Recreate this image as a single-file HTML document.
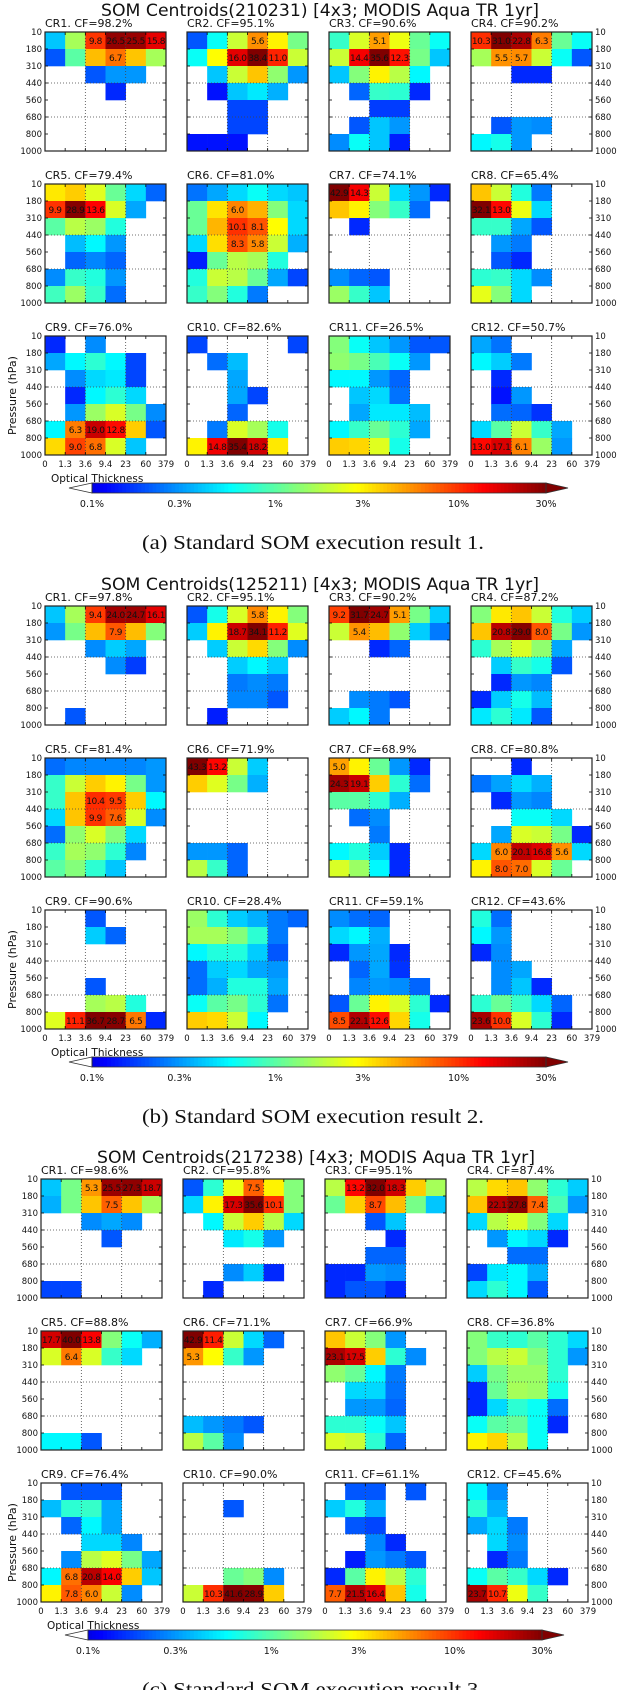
<!DOCTYPE html>
<html><head><meta charset="utf-8"><style>
html,body{margin:0;padding:0;background:#fff}
svg{display:block}
text{font-family:"DejaVu Sans","Liberation Sans",sans-serif;fill:#111}
.cap{font-family:"Liberation Serif",serif;font-size:20px}
</style></head><body>
<svg id="fig" width="620" height="1690" viewBox="0 0 620 1690" xmlns="http://www.w3.org/2000/svg"></svg>
<script>
const pressureTicks=[10,180,310,440,560,680,800,1000];
const tauTicks=[0,1.3,3.6,9.4,23,60,379];
const colorbarTicks=[0.1,0.3,1,3,10,30];
const titlesSeeds=["210231","125211","217238"];
const captions=["(a)  Standard SOM execution result 1.","(b)  Standard SOM execution result 2.","(c)  Standard SOM execution result 3."];
const cfA=[98.2,95.1,90.6,90.2,79.4,81.0,74.1,65.4,76.0,82.6,26.5,50.7];
const cfB=[97.8,95.1,90.2,87.2,81.4,71.9,68.9,80.8,90.6,28.4,59.1,43.6];
const cfC=[98.6,95.8,95.1,87.4,88.8,71.1,66.9,36.8,76.4,90.0,61.1,45.6];
const valsA=[
[[.4,1.6,9.8,26.5,25.5,15.8],[.2,1,4.2,6.7,4,1.6],[0,0,.2,.3,.3,0],[0,0,0,.15,0,0],[0,0,0,0,0,0],[0,0,0,0,0,0],[0,0,0,0,0,0]],
[[.2,.6,2,5.6,3,1.2],[.6,2.8,16.0,38.4,11.0,2],[0,.4,2,4,1.4,.3],[0,.13,.4,.5,.35,0],[0,0,.18,.18,0,0],[0,0,.18,.18,0,0],[.13,.13,.13,0,0,0]],
[[.8,2.2,5.1,2.5,1.1,.6],[2,14.4,35.6,12.3,1.2,.4],[.4,1.3,3,1.8,.55,0],[0,.22,.8,.75,.15,0],[0,0,.17,.17,0,0],[0,.2,.4,.3,0,0],[.28,.6,.4,.14,0,0]],
[[10.3,31.0,22.8,6.3,1.1,.6],[1.6,5.5,5.7,2,.6,.2],[0,0,.15,.15,0,0],[0,0,0,0,0,0],[0,0,0,0,0,0],[0,.2,.3,.28,0,0],[.55,.65,.3,0,0,0]],
[[3.2,3.8,2.3,1.1,.45,.22],[9.9,28.9,13.6,2.2,.33,0],[1,1.8,1.5,.7,0,0],[0,.38,.55,.3,0,0],[0,.22,.27,.22,0,0],[.28,.8,.7,.3,0,0],[.85,1.5,.8,.23,0,0]],
[[.24,.33,.45,.6,.45,.4],[1.1,3.3,6.0,4.5,1.3,.45],[1.1,4.4,10.1,8.1,2.8,.45],[.45,3.4,8.3,5.8,2,.35],[.14,1.1,1.8,1.6,.7,0],[.7,2,1.8,1.1,.33,.18],[.8,1.3,.7,.25,0,0]],
[[42.9,14.3,2,.45,.3,.15],[4,3,1.3,.8,.23,0],[0,.15,0,0,0,0],[0,0,0,0,0,0],[0,0,0,0,0,0],[.28,.22,.2,0,0,0],[1.5,.8,.4,0,0,0]],
[[4,2,.7,.25,0,0],[32.1,13.0,2.5,.45,0,0],[.8,.8,.33,.2,0,0],[0,.3,.25,0,0,0],[0,.2,.15,0,0,0],[.75,.8,.45,.28,0,0],[2.4,1.3,.45,0,0,0]],
[[.15,0,.28,0,0,0],[.33,.55,.75,.55,.18,0],[0,.28,.45,.5,.18,0],[0,.15,.55,.75,.45,0],[0,.3,1.5,2.2,1.2,.28],[.55,6.3,19.0,12.8,3.8,.2],[3.5,9.0,6.8,2.2,.4,0]],
[[.18,0,0,0,0,.18],[0,.23,.38,0,0,0],[0,0,.33,0,0,0],[0,0,.33,.18,0,0],[0,0,.22,0,0,0],[0,.25,2.2,1.6,.65,0],[3,14.8,35.4,18.2,3.2,0]],
[[1.3,.6,.4,.3,.2,.2],[1.4,1.2,.9,.6,.3,0],[.55,.55,.3,.22,0,0],[0,.4,.45,.24,0,0],[0,.33,.5,.5,.38,0],[.55,.8,1.1,.75,.33,0],[3.8,3.6,2.3,.65,0,0]],
[[.33,.24,0,0,0,0],[.55,.42,.25,0,0,0],[0,.15,0,0,0,0],[0,.13,.3,0,0,0],[0,.23,.22,.16,0,0],[.45,1,2,.8,.33,0],[13.0,17.1,6.1,1.5,.3,0]]
];
const valsB=[
[[.4,1.6,9.4,24.0,24.7,16.1],[.3,1.2,4.2,7.9,4.2,1.3],[0,0,.28,.42,.33,0],[0,0,0,.28,.17,0],[0,0,0,0,0,0],[0,0,0,0,0,0],[0,.2,0,0,0,0]],
[[.2,.65,2.2,5.8,3,1.3],[.42,3,18.7,34.1,11.2,2.3],[0,.42,2,3.5,1.3,.28],[0,0,.42,.55,.42,0],[0,0,.25,.28,.25,0],[0,0,.27,.27,.2,0],[0,.14,0,0,0,0]],
[[9.2,31.7,24.7,5.1,1.2,.42],[2,5.4,4.2,1.4,.42,.25],[0,0,.15,.22,0,0],[0,0,0,0,0,0],[0,0,0,0,0,0],[0,.28,.25,.2,0,0],[.42,.55,.25,0,0,0]],
[[1.3,3.2,4,2,.7,.42],[4,20.8,29.0,8.0,1.2,.3],[.75,1.6,2.2,1.4,.33,0],[0,.42,.8,.65,.2,0],[0,.15,.3,.27,0,0],[.15,.42,.65,.38,0,0],[.5,.75,.5,.2,0,0]],
[[.23,.27,.27,.27,.27,.3],[.8,2,3.8,3,1.2,.3],[.8,4,10.4,9.5,3.8,.55],[.45,4,9.9,7.6,2.2,.28],[.23,1.4,2.2,1.3,.45,0],[.8,1.6,1.4,.75,.27,0],[1,1.3,.75,.4,0,0]],
[[43.3,13.2,2,.42,0,0],[3.8,2.3,1.2,.35,0,0],[0,0,0,0,0,0],[0,0,0,0,0,0],[0,0,0,0,0,0],[.3,.3,.22,0,0,0],[1.8,.8,.22,0,0,0]],
[[5.0,3,1.1,.3,.15,0],[24.3,19.1,3.8,.75,.23,0],[1,1,.75,.35,0,0],[0,.23,.28,0,0,0],[0,0,.25,0,0,0],[.55,.7,.42,.15,0,0],[2.2,1.5,.55,.15,0,0]],
[[0,0,.15,0,0,0],[.24,.32,.45,.35,0,0],[0,.15,.3,.27,0,0],[0,0,.6,.6,.45,0],[0,.33,2.2,2,1.2,.15],[.45,6.0,20.1,16.8,5.6,.45],[3,8.0,7.0,2.2,1.1,0]],
[[0,0,.2,0,0,0],[0,0,.42,.22,0,0],[0,0,0,0,0,0],[0,0,0,0,0,0],[0,0,.2,0,0,0],[0,0,1.6,1.8,.7,0],[2.3,11.1,36.7,28.7,6.5,.15]],
[[1.5,.75,.42,.35,.25,.22],[1.6,1.6,1.3,.75,.25,0],[.55,.7,.7,.42,.2,0],[.23,.42,.45,.33,.3,0],[.23,.35,.7,.7,.33,0],[.6,1,1.2,.75,.24,0],[3.8,3.5,2,.55,0,0]],
[[.28,.23,.22,0,0,0],[.45,.55,.35,0,0,0],[.15,.3,.33,.15,0,0],[0,.22,.33,.16,0,0],[0,.27,.3,.28,.22,0],[.2,1.1,3,2.2,.75,.15],[8.5,22.1,12.6,3.6,.65,0]],
[[.7,.23,0,0,0,0],[.55,.3,0,0,0,0],[.15,.28,0,0,0,0],[0,.28,.33,0,0,0],[0,.28,.4,.15,0,0],[.75,1.1,.8,.45,.22,0],[23.6,10.0,2.2,.75,.15,0]]
];
const valsC=[
[[.4,1.2,5.3,25.5,27.3,18.7],[.35,1.2,4,7.5,4,1.6],[0,0,.28,.33,.28,0],[0,0,0,.2,0,0],[0,0,0,0,0,0],[0,0,0,0,0,0],[.18,.18,0,0,0,0]],
[[.2,.75,2.5,7.5,3,1.3],[.45,3,17.3,35.6,10.1,1.3],[0,.55,2,3.8,1.8,.45],[0,0,.5,.65,.3,0],[0,0,0,0,0,0],[0,0,.28,.42,.15,0],[0,.15,0,0,0,0]],
[[1.8,13.2,32.0,18.3,3.8,1.6],[1.1,3.8,8.7,4.2,1.2,.4],[0,0,.2,.4,0,0],[0,0,0,.15,0,0],[0,0,.22,.22,0,0],[.15,.15,.3,.28,0,0],[.15,.2,.2,.15,0,0]],
[[1.8,3.5,4,1.4,.75,.42],[4,22.1,27.8,7.4,.9,.3],[.45,1.8,2.2,1.3,.45,0],[0,.3,.55,.45,.15,0],[0,0,.23,.23,0,0],[.18,.5,.55,.35,0,0],[.45,.75,.55,.2,0,0]],
[[17.7,40.0,13.8,1.3,.6,.35],[2.2,6.4,2.2,.8,.45,0],[0,0,0,0,0,0],[0,0,0,0,0,0],[0,0,0,0,0,0],[0,0,0,0,0,0],[.55,.55,.2,0,0,0]],
[[42.9,11.4,2,.45,.22,0],[5.3,2.8,.8,.3,0,0],[0,0,0,0,0,0],[0,0,0,0,0,0],[0,0,0,0,0,0],[.38,.3,.25,.2,0,0],[1.8,1,.28,0,0,0]],
[[4,2,1.3,.3,0,0],[23.1,17.5,3.8,.75,.28,0],[1.4,1.1,.55,.25,0,0],[0,.45,.45,.24,0,0],[0,.3,.3,.22,0,0],[.75,.75,.6,.4,0,0],[2.2,2,.75,.22,0,0]],
[[1.3,.8,.75,1,.75,.45],[1.3,1.8,2,1.3,.75,.3],[.42,1.2,1.5,1.5,.75,0],[.15,1.1,1.6,1.5,.65,0],[.15,.45,.75,.6,.23,0],[.6,1,1.1,.6,.15,0],[3,3.6,1.8,.6,0,0]],
[[0,.2,.2,.2,0,0],[.38,.75,.8,.33,0,0],[0,.22,.55,.33,0,0],[0,0,.45,.45,.27,0],[0,.28,1.8,2.3,1.2,.33],[.55,6.8,20.8,14.0,3.8,.4],[3,7.8,6.0,2,.28,0]],
[[0,0,0,0,0,0],[0,0,.2,0,0,0],[0,0,0,0,0,0],[0,0,0,0,0,0],[0,0,0,0,0,0],[0,0,1.1,1.3,.28,0],[2,10.3,41.6,28.9,3.8,0]],
[[0,.2,.2,0,.2,0],[.42,.7,.35,0,0,0],[0,.2,.18,0,0,0],[0,0,.27,.15,0,0],[0,.14,.3,.25,.2,0],[.15,1,3,1.8,.75,0],[7.7,21.5,16.4,4,.65,0]],
[[.55,.28,0,0,0,0],[.75,.35,0,0,0,0],[.33,.45,.25,0,0,0],[0,.45,.28,0,0,0],[0,.15,.25,0,0,0],[.6,1,.8,.45,.15,0],[23.7,10.7,2.5,.8,0,0]]
];
const groupVals=[valsA,valsB,valsC];
const groupCF=[cfA,cfB,cfC];

const NS="http://www.w3.org/2000/svg";
const svg=document.getElementById('fig');
function mk(tag,attrs,parent,text){const e=document.createElementNS(NS,tag);for(const k in attrs)e.setAttribute(k,attrs[k]);if(text!==undefined)e.textContent=text;(parent||svg).appendChild(e);return e;}
function clip(x){return Math.max(0,Math.min(1,x));}
function jet(t){return [clip(1.5-Math.abs(4*t-3)),clip(1.5-Math.abs(4*t-2)),clip(1.5-Math.abs(4*t-1))];}
function colorFor(v){const t=clip((Math.log10(v)+1)/Math.log10(300));const tt=0.1+0.9*t;const c=jet(tt);return 'rgb('+c.map(x=>Math.round(x*255)).join(',')+')';}

const groups=[{y0:32,dx:0},{y0:606,dx:0},{y0:1179,dx:-4}];
const PW=121,PH=119;
groups.forEach((g,gi)=>{
  const G=mk('g',{});
  
  
  const tt=mk('text',{x:101+g.dx,y:g.y0-16,'font-size':'17',textLength:438,lengthAdjust:'spacingAndGlyphs'},G,'SOM Centroids('+titlesSeeds[gi]+') [4x3; MODIS Aqua TR 1yr]');
  
  
  const vals=groupVals[gi],cfs=groupCF[gi];
  for(let k=0;k<12;k++){
    const r=Math.floor(k/4),c=k%4;
    const px=45+g.dx+c*142,py=g.y0+r*152;
    const P=mk('g',{},G);
    
    
    const lab=mk('text',{x:px,y:py-5,'font-size':'11'},P,'CR'+(k+1)+'. CF='+cfs[k].toFixed(1)+'%');
    
    
    const cw=PW/6,rh=PH/7;
    const m=vals[k];
    for(let i=0;i<7;i++)for(let j=0;j<6;j++){
      const v=m[i][j];
      if(v>=0.1){
        const cell=mk('rect',{x:px+j*cw,y:py+i*rh,width:cw+0.3,height:rh+0.3,fill:colorFor(v)},P);
        
        
      }
      if(v>=5){
        const tx=mk('text',{x:px+(j+0.5)*cw,y:py+(i+0.5)*rh+3.3,'text-anchor':'middle','font-size':'9','letter-spacing':'-0.4'},P,v.toFixed(1));
        
        
      }
    }
    [2,4].forEach(j=>mk('line',{x1:px+j*cw,x2:px+j*cw,y1:py,y2:py+PH,stroke:'#444','stroke-width':0.8,'stroke-dasharray':'1,2'},P));
    [3,5].forEach(i=>mk('line',{x1:px,x2:px+PW,y1:py+i*rh,y2:py+i*rh,stroke:'#444','stroke-width':0.8,'stroke-dasharray':'1,2'},P));
    for(let i=1;i<7;i++){mk('line',{x1:px,x2:px+3,y1:py+i*rh,y2:py+i*rh,stroke:'#000','stroke-width':0.8},P);mk('line',{x1:px+PW-3,x2:px+PW,y1:py+i*rh,y2:py+i*rh,stroke:'#000','stroke-width':0.8},P);}
    for(let j=1;j<6;j++){mk('line',{x1:px+j*cw,x2:px+j*cw,y1:py,y2:py+3,stroke:'#000','stroke-width':0.8},P);mk('line',{x1:px+j*cw,x2:px+j*cw,y1:py+PH-3,y2:py+PH,stroke:'#000','stroke-width':0.8},P);}
    mk('rect',{x:px,y:py,width:PW,height:PH,fill:'none',stroke:'#222','stroke-width':1.2},P);
    if(c===0){pressureTicks.forEach((p,i)=>{const t=mk('text',{x:px-3,y:py+i*rh+3,'text-anchor':'end','font-size':'8.5'},P,String(p));});}
    if(c===3){pressureTicks.forEach((p,i)=>{const t=mk('text',{x:px+PW+3,y:py+i*rh+3,'font-size':'8.5'},P,String(p));});}
    if(r===2){tauTicks.forEach((p,j)=>{const t=mk('text',{x:px+j*cw,y:py+PH+12,'text-anchor':'middle','font-size':'8.5'},P,String(p));});}
    if(r===2&&c===0){const yl=mk('text',{x:0,y:0,transform:'translate(16,'+(py+PH/2)+') rotate(-90)','text-anchor':'middle','font-size':'11'},P,'Pressure (hPa)');}
  }
  const xl=mk('text',{x:51+g.dx,y:g.y0+450,'font-size':'10.5'},G,'Optical Thickness');
  
  
  const CB=mk('g',{},G);
  
  
  const x0=92+g.dx,x1=546+g.dx,cy=g.y0+456,h=10;
  const lv0=Math.log10(colorbarTicks[0]),lv1=Math.log10(colorbarTicks[colorbarTicks.length-1]);
  const sx=v=>x0+(Math.log10(v)-lv0)/(lv1-lv0)*(x1-x0);
  const N=120;
  for(let s=0;s<N;s++){const a=x0+s*(x1-x0)/N;const v=Math.pow(10,lv0+(s+0.5)/N*(lv1-lv0));mk('rect',{x:a,y:cy-h/2,width:(x1-x0)/N+0.5,height:h,fill:colorFor(v)},CB);}
  mk('polygon',{points:(x0)+','+(cy-h/2)+' '+(x0)+','+(cy+h/2)+' '+(x0-23)+','+cy,fill:'#fff',stroke:'#333','stroke-width':0.8},CB);
  mk('polygon',{points:(x1)+','+(cy-h/2)+' '+(x1)+','+(cy+h/2)+' '+(x1+22)+','+cy,fill:colorFor(40),stroke:'#333','stroke-width':0.8},CB);
  mk('rect',{x:x0,y:cy-h/2,width:x1-x0,height:h,fill:'none',stroke:'#333','stroke-width':0.8},CB);
  colorbarTicks.forEach(v=>{const t=mk('text',{x:sx(v),y:g.y0+475,'text-anchor':'middle','font-size':'9.5'},CB,v+'%');});
  const cap=mk('text',{x:142,y:g.y0+517,'class':'cap',textLength:342,lengthAdjust:'spacingAndGlyphs'},G,captions[gi]);
  
  
});
</script>
</body></html>
